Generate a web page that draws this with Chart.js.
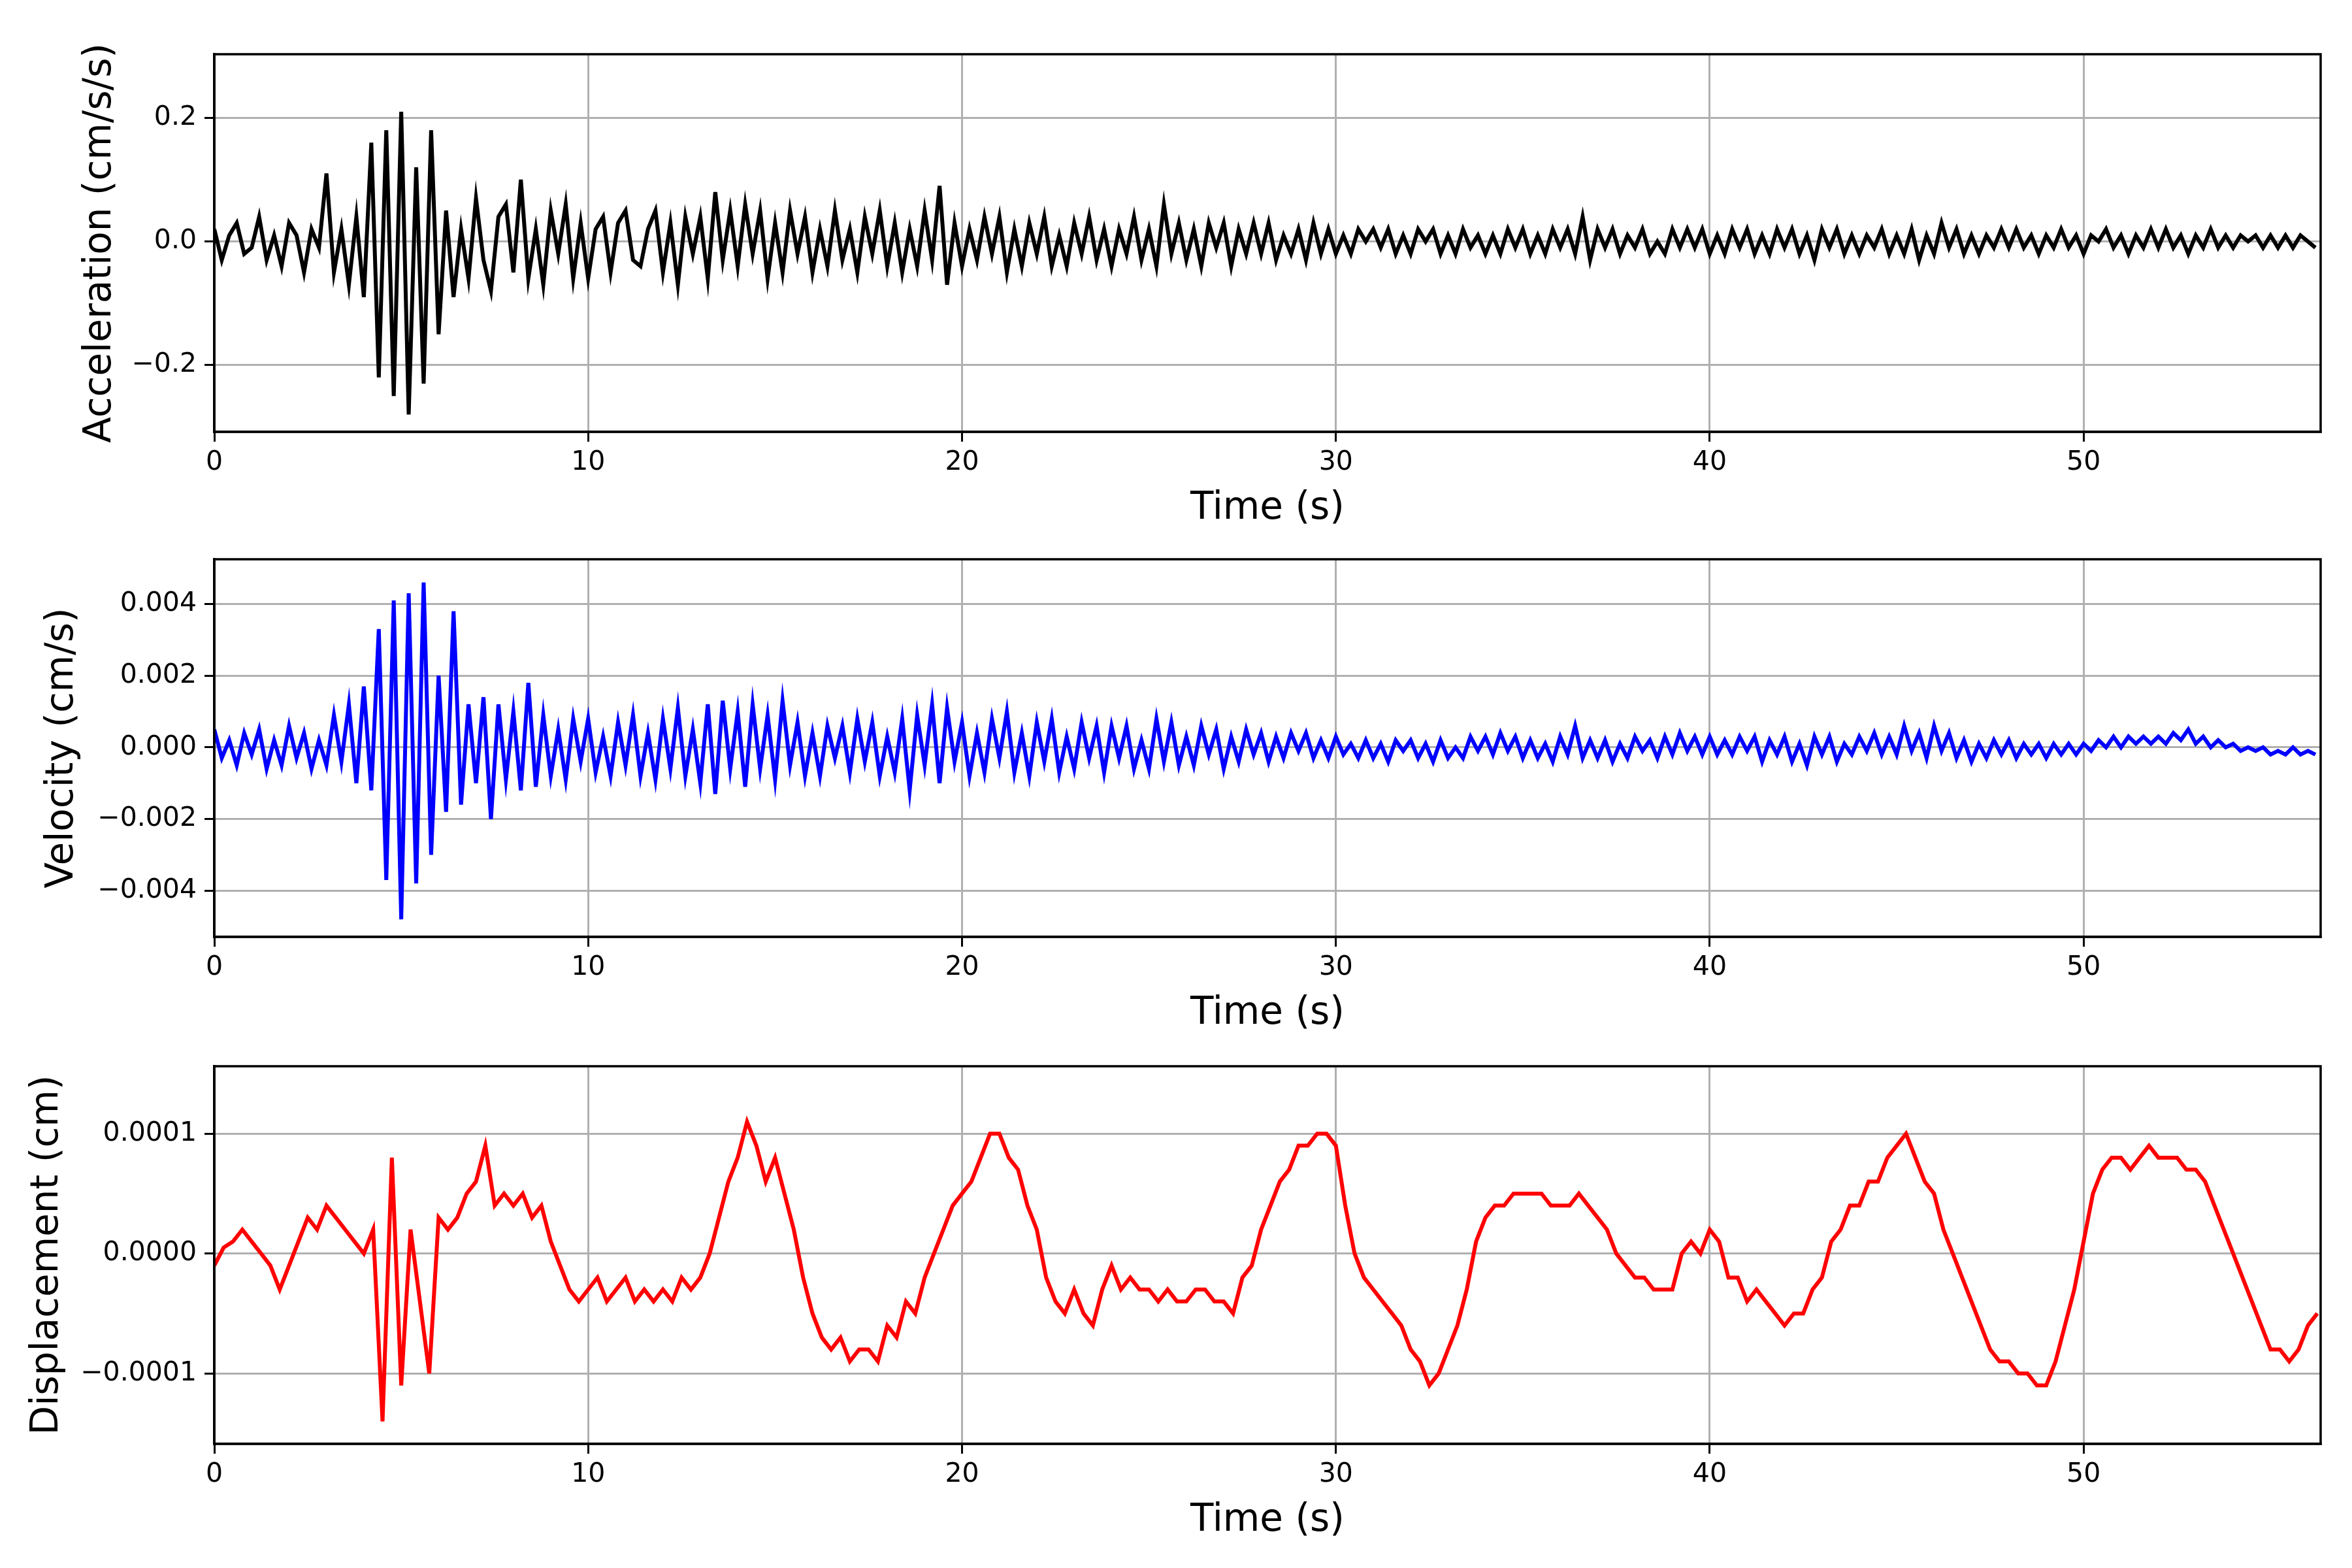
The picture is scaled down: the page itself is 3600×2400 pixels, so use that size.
<!DOCTYPE html>
<html><head><meta charset="utf-8">
<script src="https://cdn.jsdelivr.net/npm/chart.js@4.4.0/dist/chart.umd.min.js"></script>
<style>html,body{margin:0;padding:0;background:#fff;width:3600px;height:2400px;overflow:hidden}canvas{position:absolute;left:0}</style>
</head><body>
<canvas id="c1" width="3600" height="818" style="top:0px"></canvas>
<canvas id="c2" width="3600" height="818" style="top:773px"></canvas>
<canvas id="c3" width="3600" height="818" style="top:1549px"></canvas>
<script>
const sampleStep = 0.2;
const accel = [
0.02,-0.03,0.01,0.03,-0.02, -0.01,0.04,-0.03,0.01,-0.04, 0.03,0.01,-0.05,0.02,-0.01, 0.11,-0.05,0.02,-0.07,0.04,
-0.09,0.16,-0.22,0.18,-0.25, 0.21,-0.28,0.12,-0.23,0.18, -0.15,0.05,-0.09,0.02,-0.06, 0.07,-0.03,-0.08,0.04,0.06,
-0.05,0.10,-0.06,0.02,-0.07, 0.05,-0.02,0.06,-0.06,0.03, -0.06,0.02,0.04,-0.05,0.03, 0.05,-0.03,-0.04,0.02,0.05,
-0.05,0.03,-0.07,0.04,-0.02, 0.04,-0.06,0.08,-0.03,0.05, -0.04,0.06,-0.02,0.05,-0.06, 0.03,-0.05,0.05,-0.02,0.04,
-0.05,0.02,-0.04,0.05,-0.03, 0.02,-0.05,0.04,-0.02,0.05, -0.04,0.03,-0.05,0.02,-0.04, 0.05,-0.03,0.09,-0.07,0.03,
-0.04,0.02,-0.03,0.04,-0.02, 0.04,-0.05,0.02,-0.04,0.03, -0.02,0.04,-0.04,0.01,-0.04, 0.03,-0.02,0.04,-0.03,0.02,
-0.04,0.02,-0.02,0.04,-0.03, 0.02,-0.04,0.06,-0.02,0.03, -0.03,0.02,-0.04,0.03,-0.01, 0.03,-0.04,0.02,-0.02,0.03,
-0.02,0.03,-0.03,0.01,-0.02, 0.02,-0.03,0.03,-0.02,0.02, -0.02,0.01,-0.02,0.02,0.00, 0.02,-0.01,0.02,-0.02,0.01,
-0.02,0.02,0.00,0.02,-0.02, 0.01,-0.02,0.02,-0.01,0.01, -0.02,0.01,-0.02,0.02,-0.01, 0.02,-0.02,0.01,-0.02,0.02,
-0.01,0.02,-0.02,0.04,-0.03, 0.02,-0.01,0.02,-0.02,0.01, -0.01,0.02,-0.02,0.00,-0.02, 0.02,-0.01,0.02,-0.01,0.02,
-0.02,0.01,-0.02,0.02,-0.01, 0.02,-0.02,0.01,-0.02,0.02, -0.01,0.02,-0.02,0.01,-0.03, 0.02,-0.01,0.02,-0.02,0.01,
-0.02,0.01,-0.01,0.02,-0.02, 0.01,-0.02,0.02,-0.03,0.01, -0.02,0.03,-0.01,0.02,-0.02, 0.01,-0.02,0.01,-0.01,0.02,
-0.01,0.02,-0.01,0.01,-0.02, 0.01,-0.01,0.02,-0.01,0.01, -0.02,0.01,0.00,0.02,-0.01, 0.01,-0.02,0.01,-0.01,0.02,
-0.01,0.02,-0.01,0.01,-0.02, 0.01,-0.01,0.02,-0.01,0.01, -0.01,0.01,0.00,0.01,-0.01, 0.01,-0.01,0.01,-0.01,0.01,
0.00,-0.01];
const veloc = [
0.0005,-0.0003,0.0002,-0.0005,0.0004, -0.0002,0.0005,-0.0006,0.0002,-0.0005, 0.0006,-0.0003,0.0004,-0.0006,0.0002, -0.0005,0.0009,-0.0004,0.0012,-0.0010,
0.0017,-0.0012,0.0033,-0.0037,0.0041, -0.0048,0.0043,-0.0038,0.0046,-0.0030, 0.0020,-0.0018,0.0038,-0.0016,0.0012, -0.0010,0.0014,-0.0020,0.0012,-0.0009,
0.0010,-0.0012,0.0018,-0.0011,0.0009, -0.0008,0.0005,-0.0009,0.0008,-0.0004, 0.0008,-0.0007,0.0003,-0.0008,0.0007, -0.0005,0.0009,-0.0008,0.0004,-0.0009,
0.0008,-0.0006,0.0011,-0.0008,0.0005, -0.0010,0.0012,-0.0013,0.0013,-0.0006, 0.0010,-0.0011,0.0012,-0.0006,0.0009, -0.0009,0.0013,-0.0005,0.0007,-0.0008,
0.0004,-0.0008,0.0006,-0.0003,0.0006, -0.0007,0.0008,-0.0004,0.0007,-0.0008, 0.0003,-0.0007,0.0008,-0.0012,0.0009, -0.0005,0.0012,-0.0010,0.0011,-0.0004,
0.0007,-0.0008,0.0004,-0.0007,0.0008, -0.0003,0.0010,-0.0007,0.0004,-0.0008, 0.0007,-0.0004,0.0008,-0.0007,0.0003, -0.0006,0.0007,-0.0003,0.0006,-0.0007,
0.0006,-0.0003,0.0006,-0.0006,0.0002, -0.0006,0.0008,-0.0004,0.0007,-0.0005, 0.0003,-0.0005,0.0006,-0.0002,0.0005, -0.0006,0.0003,-0.0004,0.0005,-0.0002,
0.0004,-0.0004,0.0003,-0.0003,0.0004, -0.0001,0.0004,-0.0003,0.0002,-0.0003, 0.0003,-0.0002,0.0001,-0.0003,0.0002, -0.0003,0.0001,-0.0004,0.0002,-0.0001,
0.0002,-0.0003,0.0001,-0.0004,0.0002, -0.0003,0.0000,-0.0003,0.0003,-0.0001, 0.0003,-0.0002,0.0004,-0.0001,0.0003, -0.0003,0.0002,-0.0003,0.0001,-0.0004,
0.0003,-0.0002,0.0006,-0.0003,0.0002, -0.0003,0.0002,-0.0004,0.0001,-0.0003, 0.0003,-0.0001,0.0002,-0.0003,0.0003, -0.0002,0.0004,-0.0001,0.0003,-0.0002,
0.0003,-0.0002,0.0002,-0.0002,0.0003, -0.0001,0.0003,-0.0004,0.0002,-0.0002, 0.0003,-0.0004,0.0001,-0.0005,0.0003, -0.0002,0.0003,-0.0004,0.0001,-0.0002,
0.0003,-0.0001,0.0004,-0.0002,0.0003, -0.0002,0.0006,-0.0001,0.0004,-0.0003, 0.0006,-0.0001,0.0004,-0.0003,0.0002, -0.0004,0.0001,-0.0003,0.0002,-0.0002,
0.0002,-0.0003,0.0001,-0.0002,0.0001, -0.0003,0.0001,-0.0002,0.0001,-0.0002, 0.0001,-0.0001,0.0002,0.0000,0.0003, 0.0000,0.0003,0.0001,0.0003,0.0001,
0.0003,0.0001,0.0004,0.0002,0.0005, 0.0001,0.0003,0.0000,0.0002,0.0000, 0.0001,-0.0001,0.0000,-0.0001,0.0000, -0.0002,-0.0001,-0.0002,0.0000,-0.0002,
-0.0001,-0.0002];
const dispStep = 0.25;
const disp = [
-1e-5,0.5e-5,1e-5,2e-5,1e-5,0,-1e-5,-3e-5,
-1e-5,1e-5,3e-5,2e-5,4e-5,3e-5,2e-5,1e-5,
0,2e-5,-14e-5,8e-5,-11e-5,2e-5,-4e-5,-10e-5,
3e-5,2e-5,3e-5,5e-5,6e-5,9e-5,4e-5,5e-5,
4e-5,5e-5,3e-5,4e-5,1e-5,-1e-5,-3e-5,-4e-5,
-3e-5,-2e-5,-4e-5,-3e-5,-2e-5,-4e-5,-3e-5,-4e-5,
-3e-5,-4e-5,-2e-5,-3e-5,-2e-5,0,3e-5,6e-5,
8e-5,11e-5,9e-5,6e-5,8e-5,5e-5,2e-5,-2e-5,
-5e-5,-7e-5,-8e-5,-7e-5,-9e-5,-8e-5,-8e-5,-9e-5,
-6e-5,-7e-5,-4e-5,-5e-5,-2e-5,0,2e-5,4e-5,
5e-5,6e-5,8e-5,10e-5,10e-5,8e-5,7e-5,4e-5,
2e-5,-2e-5,-4e-5,-5e-5,-3e-5,-5e-5,-6e-5,-3e-5,
-1e-5,-3e-5,-2e-5,-3e-5,-3e-5,-4e-5,-3e-5,-4e-5,
-4e-5,-3e-5,-3e-5,-4e-5,-4e-5,-5e-5,-2e-5,-1e-5,
2e-5,4e-5,6e-5,7e-5,9e-5,9e-5,10e-5,10e-5,
9e-5,4e-5,0,-2e-5,-3e-5,-4e-5,-5e-5,-6e-5,
-8e-5,-9e-5,-11e-5,-10e-5,-8e-5,-6e-5,-3e-5,1e-5,
3e-5,4e-5,4e-5,5e-5,5e-5,5e-5,5e-5,4e-5,
4e-5,4e-5,5e-5,4e-5,3e-5,2e-5,0,-1e-5,
-2e-5,-2e-5,-3e-5,-3e-5,-3e-5,0,1e-5,0,
2e-5,1e-5,-2e-5,-2e-5,-4e-5,-3e-5,-4e-5,-5e-5,
-6e-5,-5e-5,-5e-5,-3e-5,-2e-5,1e-5,2e-5,4e-5,
4e-5,6e-5,6e-5,8e-5,9e-5,10e-5,8e-5,6e-5,
5e-5,2e-5,0,-2e-5,-4e-5,-6e-5,-8e-5,-9e-5,
-9e-5,-10e-5,-10e-5,-11e-5,-11e-5,-9e-5,-6e-5,-3e-5,
1e-5,5e-5,7e-5,8e-5,8e-5,7e-5,8e-5,9e-5,
8e-5,8e-5,8e-5,7e-5,7e-5,6e-5,4e-5,2e-5,
0,-2e-5,-4e-5,-6e-5,-8e-5,-8e-5,-9e-5,-8e-5,
-6e-5,-5e-5];
const xTicks = [0,10,20,30,40,50];

const frame = {id:'frame',afterDraw(c){const a=c.chartArea,x=c.ctx;x.save();x.strokeStyle='#000';x.lineWidth=3.5;x.strokeRect(a.left,a.top,a.right-a.left,a.bottom-a.top);x.restore();}};
function fmt(v,d){const s=Math.abs(v).toFixed(d);return (v<-1e-12?'\u2212':'')+s;}
function make(id,pts,color,title,ymin,ymax,yt,dec,padL){
  new Chart(document.getElementById(id),{type:'line',
    data:{datasets:[{data:pts,borderColor:color,borderWidth:6,pointRadius:0,tension:0,fill:false}]},
    options:{responsive:false,animation:false,devicePixelRatio:1,
      layout:{padding:{top:83,right:48,left:padL,bottom:0}},
      plugins:{legend:{display:false},tooltip:{enabled:false}},
      scales:{
        x:{type:'linear',min:0,max:56.34,afterFit(s){s.height=157;},
          afterBuildTicks(s){s.ticks=xTicks.map(v=>({value:v}));},
          grid:{color:'#b0b0b0',lineWidth:3,tickColor:'#000',tickWidth:3,tickLength:15},
          border:{color:'#000',width:3.5},
          ticks:{color:'#000',font:{family:'DejaVu Sans',size:41},padding:8,maxRotation:0},
          title:{display:true,text:'Time (s)',color:'#000',font:{family:'DejaVu Sans',size:58}}},
        y:{min:ymin,max:ymax,afterFit(s){s.width=328-padL;},
          afterBuildTicks(s){s.ticks=yt.map(v=>({value:v}));},
          grid:{color:'#b0b0b0',lineWidth:3,tickColor:'#000',tickWidth:3,tickLength:15},
          border:{color:'#000',width:3.5},
          ticks:{color:'#000',font:{family:'DejaVu Sans',size:41},padding:12,callback:v=>fmt(v,dec)},
          title:{display:true,text:title,color:'#000',font:{family:'DejaVu Sans',size:58}}}
      }},plugins:[frame]});
}
const accelTicks=[-0.2,0,0.2];
const velocTicks=[-0.004,-0.002,0,0.002,0.004];
const dispTicks=[-0.0001,0,0.0001];
const p1=accel.map((v,i)=>({x:+(i*sampleStep).toFixed(2),y:v}));
const p2=veloc.map((v,i)=>({x:+(i*sampleStep).toFixed(2),y:v}));
const p3=disp.map((v,i)=>({x:i*dispStep,y:v}));
make('c1',p1,'#000000','Acceleration (cm/s/s)',-0.308,0.303,accelTicks,1,115);
make('c2',p2,'#0000ff','Velocity (cm/s)',-0.00529,0.00525,velocTicks,3,57);
make('c3',p3,'#ff0000','Displacement (cm)',-0.00015875,0.00015625,dispTicks,4,34);
</script></body></html>
